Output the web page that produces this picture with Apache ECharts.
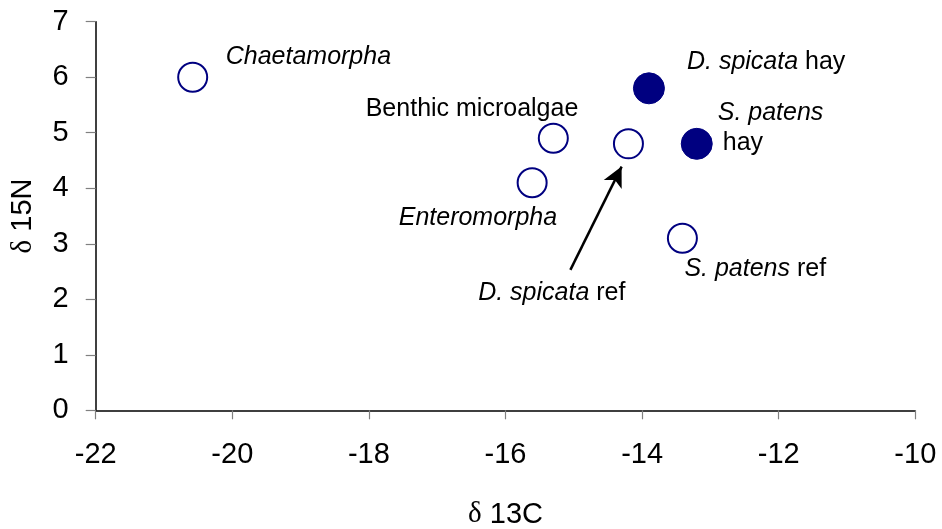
<!DOCTYPE html>
<html>
<head>
<meta charset="utf-8">
<script src="https://cdn.jsdelivr.net/npm/echarts@6/dist/echarts.min.js"></script>
<style>
html,body{margin:0;padding:0;background:#fff;}
#chart{width:942px;height:529px;}
</style>
</head>
<body>
<div id="chart"></div>
<script>
// Data (delta 13C, delta 15N)
var openNames = ['Chaetamorpha', 'Benthic microalgae', 'Enteromorpha', 'D. spicata ref', 'S. patens ref'];
var openX = [-20.58, -15.30, -15.61, -14.20, -13.41];
var openY = [6.0, 4.9, 4.1, 4.8, 3.1];
var hayNames = ['D. spicata hay', 'S. patens hay'];
var hayX = [-13.90, -13.20];
var hayY = [5.8, 4.8];
var xTicks = [-22, -20, -18, -16, -14, -12, -10];
var yTicks = [0, 1, 2, 3, 4, 5, 6, 7];
var arrowFrom = [-15.05, 2.53];
var arrowTo = [-14.30, 4.39];

var FONT = '"Liberation Sans", Arial, sans-serif';
var LS = 25;
function rich() {
  return {
    i: {fontStyle: 'italic', fontSize: LS, fontFamily: FONT, color: '#000'},
    n: {fontSize: LS, fontFamily: FONT, color: '#000'},
    h: {fontSize: LS, fontFamily: FONT, color: '#000', padding: [0, 0, 0, 5]}
  };
}
// label layout per name: text, alignment and pixel offset from marker centre
var labelLayout = {
  'Chaetamorpha': {f: '{i|Chaetamorpha}', align: 'left', off: [33, -20]},
  'Benthic microalgae': {f: '{n|Benthic microalgae}', align: 'right', off: [25, -29]},
  'Enteromorpha': {f: '{i|Enteromorpha}', align: 'right', off: [25, 35]},
  'D. spicata ref': {f: '{i|D. spicata}{n| ref}', align: 'right', off: [-3, 149]},
  'S. patens ref': {f: '{i|S. patens}{n| ref}', align: 'left', off: [2, 31]},
  'D. spicata hay': {f: '{i|D. spicata}{n| hay}', align: 'left', off: [38, -26]},
  'S. patens hay': {f: '{i|S. patens}\n{h|hay}', align: 'left', off: [21, -16]}
};
function mk(names, xs, ys) {
  return names.map(function (n, k) {
    var L = labelLayout[n];
    return {
      name: n,
      value: [xs[k], ys[k]],
      label: {
        show: true, position: 'inside', formatter: L.f, align: L.align,
        verticalAlign: 'middle', offset: L.off, rich: rich(), lineHeight: 30,
        color: '#000', fontSize: LS, fontFamily: FONT
      }
    };
  });
}

var chart = echarts.init(document.getElementById('chart'), null, {renderer: 'canvas'});
var axisNameRich = {
  d: {fontFamily: '"Liberation Serif", "Times New Roman", serif', fontSize: 29, color: '#000'},
  t: {fontFamily: FONT, fontSize: 29, color: '#000'}
};
chart.setOption({
  animation: false,
  backgroundColor: '#fff',
  grid: {left: 95.7, right: 26.7, top: 21.7, bottom: 118.7, containLabel: false, outerBoundsMode: 'none'},
  xAxis: {
    type: 'value', min: xTicks[0], max: xTicks[xTicks.length - 1], interval: 2,
    name: '{d|δ}{t| 13C}', nameLocation: 'middle', nameGap: 90,
    nameTextStyle: {rich: axisNameRich, color: '#000', fontSize: 29},
    axisLine: {show: true, onZero: false, lineStyle: {color: '#000', width: 1.5}},
    axisTick: {show: true, inside: false, length: 9, lineStyle: {color: '#808080', width: 1.2}},
    axisLabel: {fontSize: 29, fontFamily: FONT, color: '#000', margin: 30},
    splitLine: {show: false}
  },
  yAxis: {
    type: 'value', min: yTicks[0], max: yTicks[yTicks.length - 1], interval: 1,
    name: '{d|δ}{t| 15N}', nameLocation: 'middle', nameGap: 58, nameRotate: 90,
    nameTextStyle: {rich: axisNameRich, color: '#000', fontSize: 29},
    axisLine: {show: true, onZero: false, lineStyle: {color: '#000', width: 1.5}},
    axisTick: {show: true, inside: false, length: 10, lineStyle: {color: '#808080', width: 1.2}},
    axisLabel: {fontSize: 29, fontFamily: FONT, color: '#000', margin: 27},
    splitLine: {show: false}
  },
  series: [
    {
      type: 'scatter', symbol: 'circle', symbolSize: 29,
      itemStyle: {color: '#fff', borderColor: '#000080', borderWidth: 2, opacity: 1},
      emphasis: {disabled: true},
      data: mk(openNames, openX, openY),
      markLine: {
        silent: true, symbol: ['none', 'arrow'], symbolSize: [15, 20],
        label: {show: false},
        lineStyle: {color: '#000', width: 2.5, type: 'solid', opacity: 1},
        data: [[{coord: arrowFrom}, {coord: arrowTo}]]
      }
    },
    {
      type: 'scatter', symbol: 'circle', symbolSize: 31,
      itemStyle: {color: '#000080', borderColor: '#000080', borderWidth: 1, opacity: 1},
      emphasis: {disabled: true},
      data: mk(hayNames, hayX, hayY)
    }
  ]
});
</script>
</body>
</html>
